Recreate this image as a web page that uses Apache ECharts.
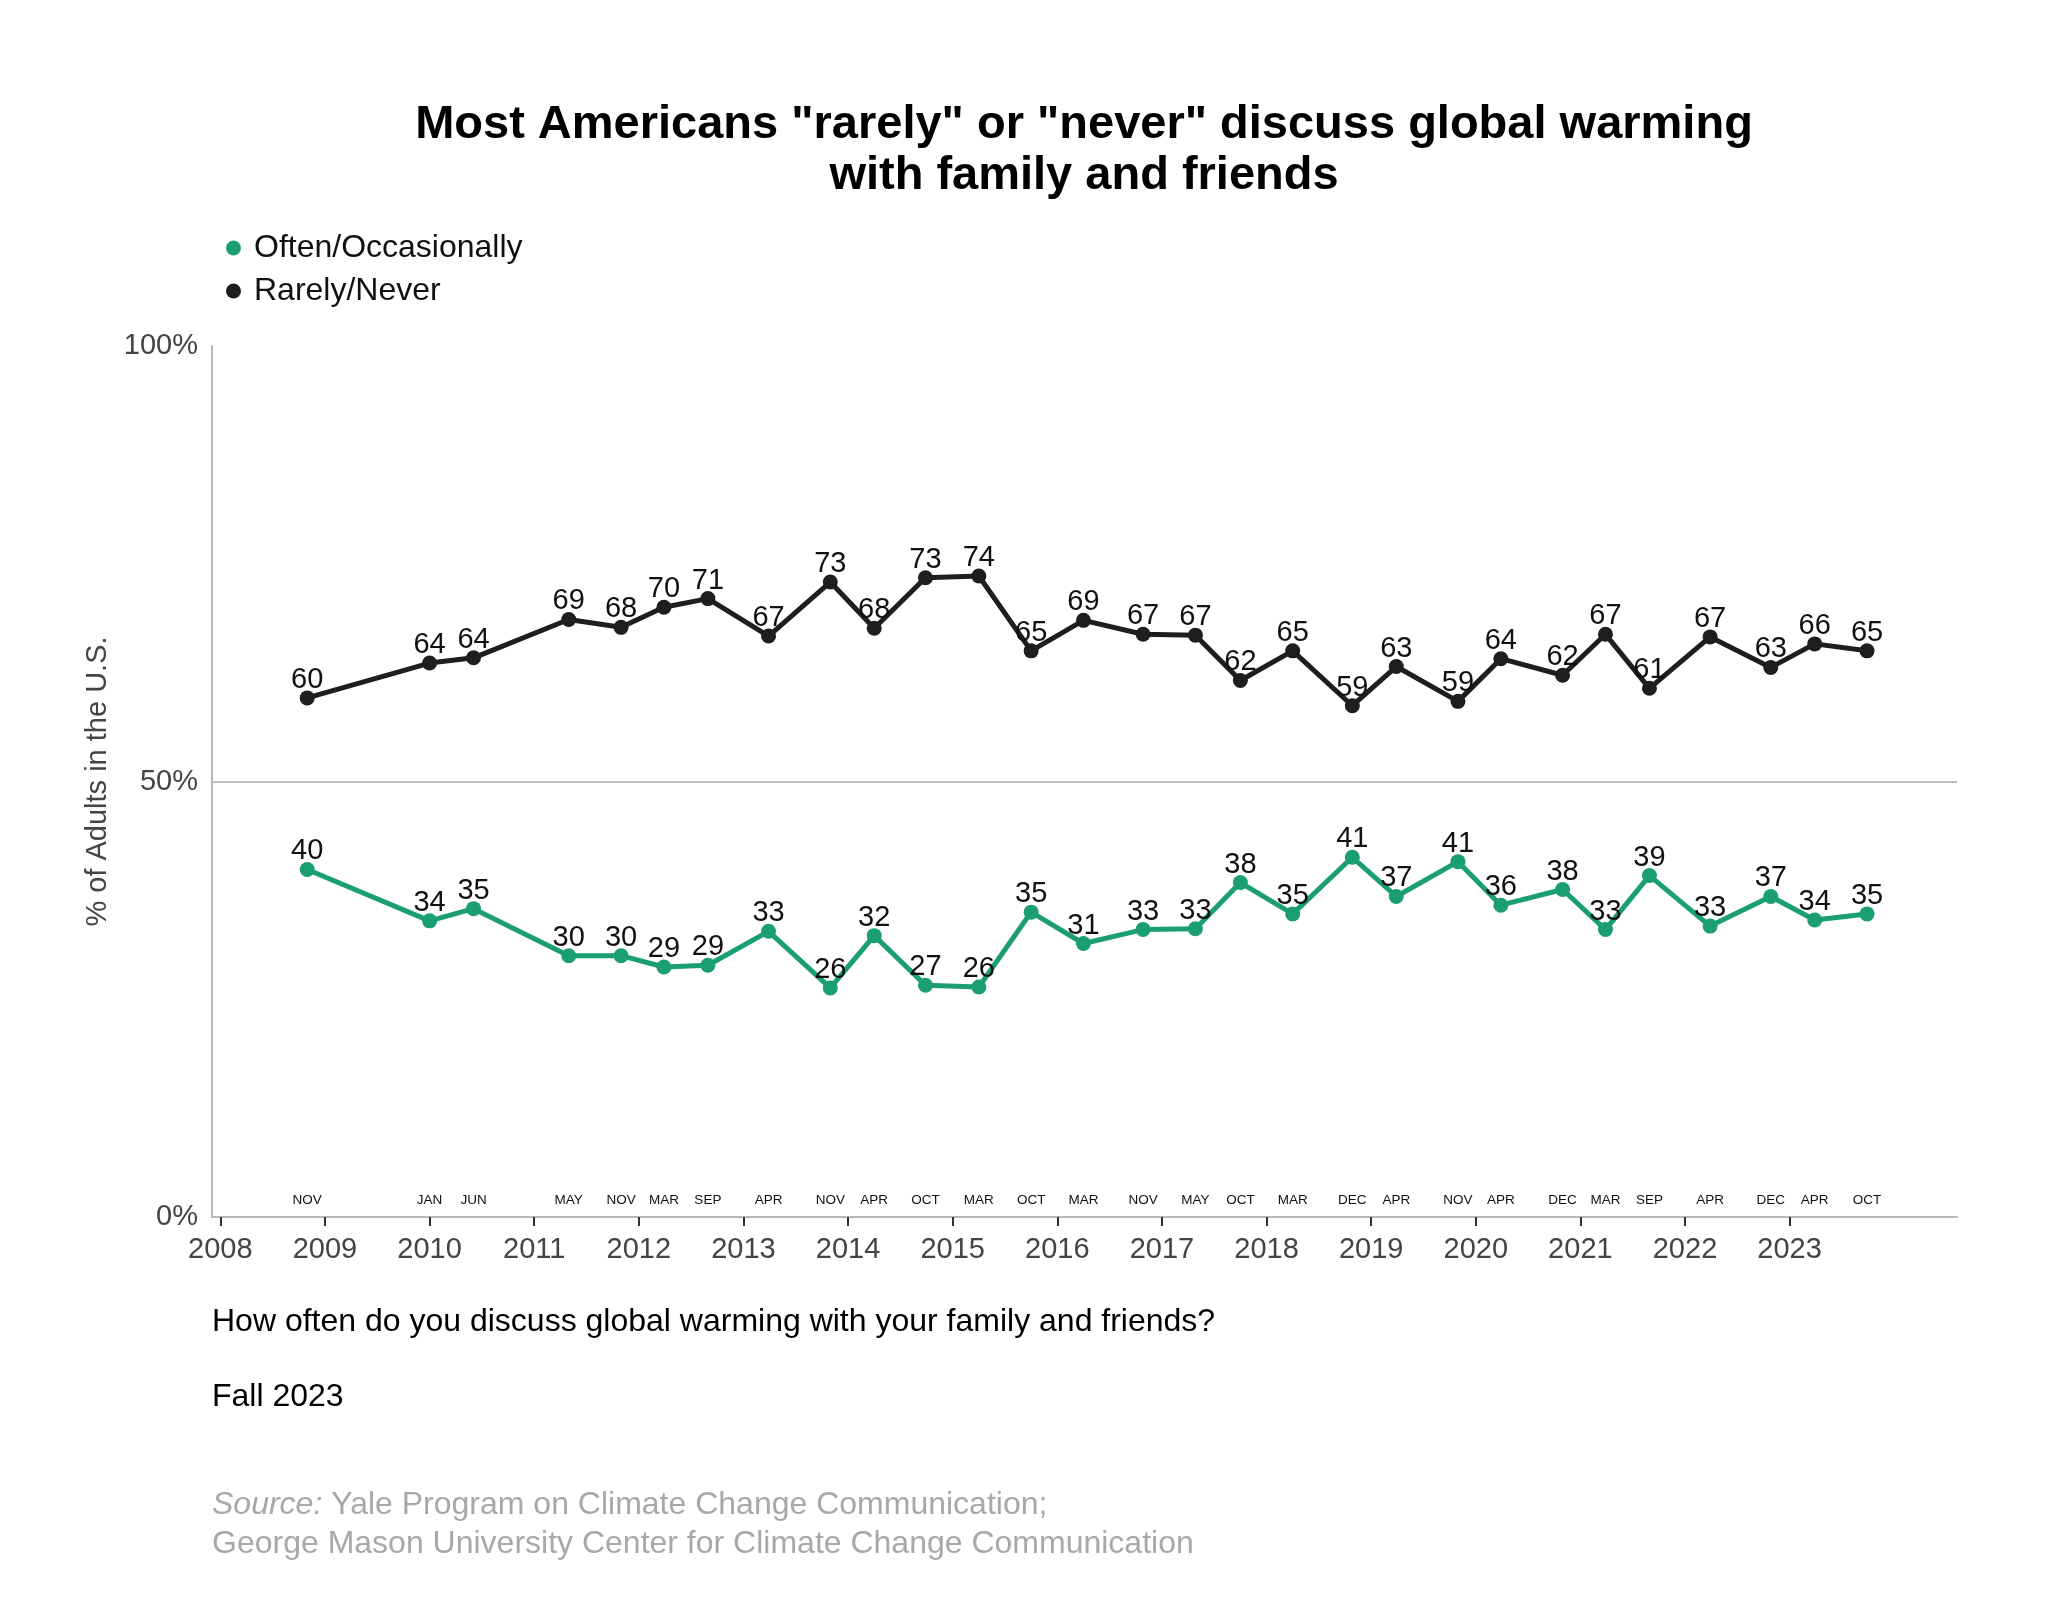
<!DOCTYPE html>
<html>
<head>
<meta charset="utf-8">
<script src="https://cdn.jsdelivr.net/npm/echarts@6/dist/echarts.min.js"></script>
<style>
  html, body { margin: 0; padding: 0; background: #ffffff; }
  #chart { width: 2048px; height: 1603px; }
</style>
</head>
<body>
<div id="chart"></div>
<script>
// ---- Data ----
// Survey field time as decimal year
const surveyTime = [2008.83, 2010.00, 2010.42, 2011.33, 2011.83, 2012.24, 2012.66, 2013.24, 2013.83, 2014.25,
                    2014.74, 2015.25, 2015.75, 2016.25, 2016.82, 2017.32, 2017.75, 2018.25, 2018.82, 2019.24,
                    2019.83, 2020.24, 2020.83, 2021.24, 2021.66, 2022.24, 2022.82, 2023.24, 2023.74];
const surveyMonths = ['NOV','JAN','JUN','MAY','NOV','MAR','SEP','APR','NOV','APR',
                      'OCT','MAR','OCT','MAR','NOV','MAY','OCT','MAR','DEC','APR',
                      'NOV','APR','DEC','MAR','SEP','APR','DEC','APR','OCT'];
const oftenOccasionally = [39.9, 34.0, 35.4, 30.0, 30.0, 28.7, 28.9, 32.8, 26.3, 32.3,
                           26.6, 26.4, 35.0, 31.4, 33.0, 33.1, 38.4, 34.8, 41.3, 36.8,
                           40.8, 35.8, 37.6, 33.0, 39.2, 33.4, 36.8, 34.1, 34.8];
const rarelyNever = [59.6, 63.6, 64.2, 68.6, 67.7, 70.0, 71.0, 66.7, 72.9, 67.6,
                     73.4, 73.6, 65.0, 68.5, 66.9, 66.8, 61.6, 65.0, 58.7, 63.2,
                     59.2, 64.1, 62.2, 66.9, 60.7, 66.6, 63.1, 65.8, 65.0];
const yearTicks = [2008, 2009, 2010, 2011, 2012, 2013, 2014, 2015, 2016, 2017, 2018, 2019, 2020, 2021, 2022, 2023];
const seriesNames = ['Often/Occasionally', 'Rarely/Never'];

// ---- Chart ----
const FONT = "'Liberation Sans', Arial, Helvetica, sans-serif";
const GREEN = '#1b9e74';
const BLACK = '#1e1e1e';
const X_MIN = 2007.92, X_MAX = 2024.6;

const chart = echarts.init(document.getElementById('chart'), null, { renderer: 'canvas' });

function pairs(vals) { return vals.map((v, i) => [surveyTime[i], v]); }

function monthFor(value) {
  let best = 0, bd = Infinity;
  surveyTime.forEach((t, i) => { const d = Math.abs(t - value); if (d < bd) { bd = d; best = i; } });
  return surveyMonths[best];
}

const labelCfg = {
  show: true, position: 'top', distance: -4,
  fontSize: 29, color: '#111', fontFamily: FONT,
  formatter: p => String(Math.round(p.value[1]))
};

const option = {
  animation: false,
  backgroundColor: '#ffffff',
  textStyle: { fontFamily: FONT },
  grid: { left: 212, right: 91, top: 346, bottom: 386, containLabel: false },
  legend: {
    orient: 'vertical', left: 221, top: 227,
    icon: 'circle', itemWidth: 15, itemHeight: 15, itemGap: 11,
    textStyle: { fontSize: 32, color: '#111', fontFamily: FONT, padding: [0, 0, 0, 8] },
    data: seriesNames
  },
  xAxis: [
    {
      type: 'value', min: X_MIN, max: X_MAX, position: 'bottom',
      axisLine: { show: true, onZero: false, lineStyle: { color: '#b8b8b8', width: 2 } },
      axisTick: { show: true, customValues: yearTicks, length: 9, lineStyle: { color: '#333', width: 2 } },
      axisLabel: { customValues: yearTicks, formatter: v => String(Math.round(v)), fontSize: 29, color: '#444', margin: 18, fontFamily: FONT },
      splitLine: { show: false }
    },
    {
      type: 'value', min: X_MIN, max: X_MAX, position: 'bottom', offset: 0,
      axisLine: { show: false, onZero: false },
      axisTick: { show: false },
      axisLabel: { inside: true, customValues: surveyTime, formatter: v => monthFor(v), fontSize: 13.5, color: '#111', margin: 10, fontFamily: FONT },
      splitLine: { show: false }
    }
  ],
  yAxis: {
    type: 'value', min: 0, max: 100, interval: 50,
    axisLine: { show: true, lineStyle: { color: '#b8b8b8', width: 2 } },
    axisTick: { show: false },
    axisLabel: { formatter: '{value}%', fontSize: 29, color: '#444', margin: 14, fontFamily: FONT },
    splitLine: { show: true, lineStyle: { color: ['rgba(0,0,0,0)', '#bdbdbd', 'rgba(0,0,0,0)'], width: 2 } },
    name: '% of Adults in the U.S.', nameLocation: 'middle', nameGap: 88,
    nameTextStyle: { fontSize: 29, color: '#444', fontFamily: FONT }
  },
  series: [
    {
      name: seriesNames[0], type: 'line', data: pairs(oftenOccasionally),
      color: GREEN, symbol: 'circle', symbolSize: 15,
      lineStyle: { width: 5, color: GREEN }, itemStyle: { color: GREEN },
      label: labelCfg, z: 3
    },
    {
      name: seriesNames[1], type: 'line', data: pairs(rarelyNever),
      color: BLACK, symbol: 'circle', symbolSize: 15,
      lineStyle: { width: 5, color: BLACK }, itemStyle: { color: BLACK },
      label: labelCfg, z: 3
    }
  ],
  graphic: [
    { type: 'text', x: 1084, y: 125, style: { text: 'Most Americans "rarely" or "never" discuss global warming', font: `bold 47px ${FONT}`, fill: '#000', align: 'center', verticalAlign: 'middle' } },
    { type: 'text', x: 1084, y: 176, style: { text: 'with family and friends', font: `bold 47px ${FONT}`, fill: '#000', align: 'center', verticalAlign: 'middle' } },
    { type: 'text', x: 212, y: 1322, style: { text: 'How often do you discuss global warming with your family and friends?', font: `32px ${FONT}`, fill: '#000', align: 'left', verticalAlign: 'middle' } },
    { type: 'text', x: 212, y: 1397, style: { text: 'Fall 2023', font: `32px ${FONT}`, fill: '#000', align: 'left', verticalAlign: 'middle' } },
    { type: 'text', x: 212, y: 1505, style: {
        text: '{i|Source:} Yale Program on Climate Change Communication;',
        font: `32px ${FONT}`, fill: '#a8a8a8', align: 'left', verticalAlign: 'middle',
        rich: { i: { fontStyle: 'italic', fontSize: 32, fontFamily: FONT, fill: '#a8a8a8' } } } },
    { type: 'text', x: 212, y: 1544, style: { text: 'George Mason University Center for Climate Change Communication', font: `32px ${FONT}`, fill: '#a8a8a8', align: 'left', verticalAlign: 'middle' } }
  ]
};

chart.setOption(option);
</script>
</body>
</html>
